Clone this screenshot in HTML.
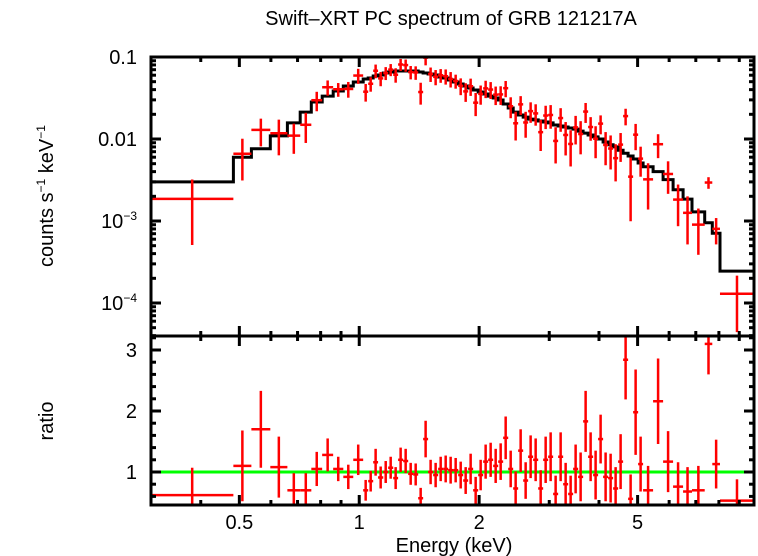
<!DOCTYPE html>
<html><head><meta charset="utf-8"><style>
html,body{margin:0;padding:0;background:#fff;}
svg{display:block;font-family:"Liberation Sans",sans-serif;}
</style></head><body>
<svg id="chart" width="758" height="556" viewBox="0 0 758 556" xmlns="http://www.w3.org/2000/svg">
<text x="451" y="25" font-size="20" text-anchor="middle">Swift–XRT PC spectrum of GRB 121217A</text>
<g id="marks"></g>
<g id="axes"></g>
<text x="454" y="552" font-size="20" text-anchor="middle">Energy (keV)</text>
<text transform="translate(53,196) rotate(-90)" font-size="20" text-anchor="middle">counts s<tspan font-size="12" dy="-8">−1</tspan><tspan dy="8"> keV</tspan><tspan font-size="12" dy="-8">−1</tspan></text>
<text transform="translate(53,421) rotate(-90)" font-size="20" text-anchor="middle">ratio</text>
</svg>
<script>
const binEdges=[0.300,0.483,0.536,0.598,0.660,0.711,0.758,0.807,0.860,0.912,0.966,1.023,1.053,1.084,1.115,1.149,1.182,1.217,1.252,1.289,1.327,1.366,1.406,1.447,1.489,1.533,1.578,1.625,1.672,1.721,1.772,1.824,1.877,1.932,1.989,2.047,2.107,2.169,2.233,2.298,2.366,2.435,2.506,2.580,2.655,2.733,2.814,2.896,2.981,3.068,3.158,3.251,3.346,3.444,3.545,3.649,3.756,3.866,3.979,4.096,4.216,4.340,4.467,4.598,4.733,4.872,5.015,5.161,5.468,5.794,6.138,6.503,6.848,7.37,7.70,8.05,9.8];
const modelRate=[0.0030,0.0060,0.0076,0.0109,0.0157,0.0213,0.0283,0.0334,0.0385,0.0443,0.0495,0.0539,0.0555,0.0586,0.0603,0.0638,0.0656,0.0675,0.0675,0.0675,0.0675,0.0675,0.0656,0.0638,0.0620,0.0603,0.0570,0.0555,0.0524,0.0495,0.0469,0.0443,0.0419,0.0396,0.0374,0.0354,0.0334,0.0316,0.0299,0.0267,0.0239,0.0213,0.0196,0.0185,0.0175,0.0171,0.0166,0.0161,0.0157,0.0148,0.0144,0.0140,0.0136,0.0132,0.0125,0.0118,0.0112,0.0106,0.0100,0.0092,0.0085,0.0080,0.0073,0.0067,0.0062,0.0057,0.0051,0.0046,0.0040,0.0032,0.0024,0.00185,0.00129,0.00095,0.00071,0.000245];
const ratioVal=[0.62,1.10,1.70,1.08,0.70,0.70,1.05,1.28,1.05,0.92,1.20,0.70,0.85,1.16,0.91,1.00,1.07,0.90,1.20,1.18,0.97,0.96,0.57,1.54,1.00,0.95,1.05,1.05,1.03,1.03,0.95,0.86,1.05,0.70,0.95,1.17,1.20,1.10,1.17,1.56,1.05,0.73,1.35,0.86,1.25,1.20,0.73,1.20,1.25,0.64,1.25,0.80,0.64,1.05,0.92,1.83,1.25,0.95,1.54,0.92,0.90,0.73,1.17,2.84,0.56,1.98,1.13,0.70,2.16,1.17,0.76,0.68,0.70,3.10,1.13,0.53];
const ratioErr=[0.45,0.58,0.63,0.50,0.28,0.28,0.28,0.27,0.20,0.20,0.25,0.17,0.17,0.22,0.18,0.18,0.18,0.18,0.20,0.20,0.18,0.18,0.17,0.30,0.20,0.20,0.20,0.22,0.22,0.20,0.22,0.22,0.25,0.22,0.25,0.28,0.28,0.28,0.30,0.35,0.30,0.28,0.35,0.30,0.35,0.35,0.30,0.38,0.40,0.30,0.40,0.35,0.30,0.40,0.40,0.50,0.40,0.40,0.40,0.40,0.40,0.35,0.45,0.65,0.40,0.70,0.45,0.40,0.70,0.50,0.40,0.40,0.40,0.50,0.40,0.35];
const xTickMajor=[0.5,1,2,5];
const xTickLabels=["0.5","1","2","5"];
const xTickMinor=[0.3,0.4,0.6,0.7,0.8,0.9,3,4,6,7,8,9];
const ratioTickMajor=[1,2,3];
const ratioTickMinor=[0.6,0.8,1.2,1.4,1.6,1.8,2.2,2.4,2.6,2.8,3.2];

const NS="http://www.w3.org/2000/svg";
const L=151,R=754,T1=57,B1=336,T2=336,B2=505;
const xMinLog=Math.log10(0.30),xMaxLog=Math.log10(9.8);
function xs(e){return L+(Math.log10(e)-xMinLog)/(xMaxLog-xMinLog)*(R-L);}
const yTopMax=-1,yTopMin=-1-(B1-T1)/82;
function yt(v){const lv=Math.log10(Math.max(v,1e-7));return T1+(yTopMax-lv)/(yTopMax-yTopMin)*(B1-T1);}
const rMax=1+(472-T2)/61,rMin=1-(B2-472)/61;
function yr(r){return T2+(rMax-r)/(rMax-rMin)*(B2-T2);}
function cl(y,a,b){return Math.max(a,Math.min(b,y));}
const marks=document.getElementById('marks'),axes=document.getElementById('axes');
function line(p,x1,y1,x2,y2,c,w){const l=document.createElementNS(NS,'line');l.setAttribute('x1',x1);l.setAttribute('y1',y1);l.setAttribute('x2',x2);l.setAttribute('y2',y2);l.setAttribute('stroke',c);l.setAttribute('stroke-width',w);p.appendChild(l);return l;}
function text(p,x,y,s,anchor){const t=document.createElementNS(NS,'text');t.setAttribute('x',x);t.setAttribute('y',y);t.setAttribute('font-size','20');t.setAttribute('text-anchor',anchor);t.textContent=s;p.appendChild(t);return t;}

let d='';
for(let i=0;i<modelRate.length;i++){const x1=xs(binEdges[i]),x2=xs(binEdges[i+1]),y=cl(yt(modelRate[i]),T1,B1);d+=(i===0?'M':'L')+x1.toFixed(1)+','+y.toFixed(1)+'L'+x2.toFixed(1)+','+y.toFixed(1);}
const mp=document.createElementNS(NS,'path');
mp.setAttribute('d',d);mp.setAttribute('fill','none');mp.setAttribute('stroke','#000');mp.setAttribute('stroke-width','3');


marks.appendChild(mp);

const gl=line(marks,L,yr(1),R,yr(1),'#00ff00',3);



for(let i=0;i<ratioVal.length;i++){
  const x1=xs(binEdges[i]),x2=xs(binEdges[i+1]),xc=xs(Math.sqrt(binEdges[i]*binEdges[i+1]));
  const m=modelRate[i],r=ratioVal[i],e=ratioErr[i];
  const g=document.createElementNS(NS,'g');
  
  
  const v=r*m,vh=(r+e)*m,vl=Math.max((r-e)*m,1e-7);
  const yv=yt(v);
  if(yv>=T1&&yv<=B1){line(g,x1,yv,x2,yv,'#ff0000',2.5);}
  line(g,xc,cl(yt(vh),T1,B1),xc,cl(yt(vl),T1,B1),'#ff0000',2.5);
  const yrv=yr(r);
  if(yrv>=T2&&yrv<=B2){line(g,x1,yrv,x2,yrv,'#ff0000',2.5);}
  line(g,xc,cl(yr(r+e),T2,B2),xc,cl(yr(r-e),T2,B2),'#ff0000',2.5);
  marks.appendChild(g);
}

[[T1,B1],[T2,B2]].forEach(([t,b],k)=>{
  const rc=document.createElementNS(NS,'rect');
  rc.setAttribute('x',L);rc.setAttribute('y',t);rc.setAttribute('width',R-L);rc.setAttribute('height',b-t);
  rc.setAttribute('fill','none');rc.setAttribute('stroke','#000');rc.setAttribute('stroke-width','3');
  
  
  axes.appendChild(rc);
  xTickMajor.forEach(e=>{const x=xs(e);line(axes,x,t,x,t+10,'#000',3);line(axes,x,b,x,b-10,'#000',3);});
  xTickMinor.forEach(e=>{const x=xs(e);line(axes,x,t,x,t+5,'#000',3);line(axes,x,b,x,b-5,'#000',3);});
});
xTickMajor.forEach((e,i)=>{const t=text(axes,xs(e),529,xTickLabels[i],'middle');

});
for(let dec=-5;dec<=-1;dec++){
  for(let k=1;k<=9;k++){const v=k*Math.pow(10,dec);const y=yt(v);if(y<T1-0.5||y>B1+0.5)continue;const len=k===1?10:5;line(axes,L,y,L+len,y,'#000',3);line(axes,R,y,R-len,y,'#000',3);}
}
const topLabels=[[0.1,'0.1'],[0.01,'0.01']];
topLabels.forEach(([v,s])=>{const t=text(axes,137,yt(v)+7,s,'end');

});
[[1e-3,'−3'],[1e-4,'−4']].forEach(([v,s])=>{const t=document.createElementNS(NS,'text');t.setAttribute('x',137);t.setAttribute('y',yt(v)+7);t.setAttribute('font-size','20');t.setAttribute('text-anchor','end');
t.innerHTML='10<tspan font-size="12" dy="-8">'+s+'</tspan>';


axes.appendChild(t);});
ratioTickMajor.forEach(r=>{const y=yr(r);line(axes,L,y,L+10,y,'#000',3);line(axes,R,y,R-10,y,'#000',3);
const t=text(axes,137,y+7,String(r),'end');

});
ratioTickMinor.forEach(r=>{const y=yr(r);if(y<T2||y>B2)return;line(axes,L,y,L+5,y,'#000',3);line(axes,R,y,R-5,y,'#000',3);});
</script>
</body></html>
